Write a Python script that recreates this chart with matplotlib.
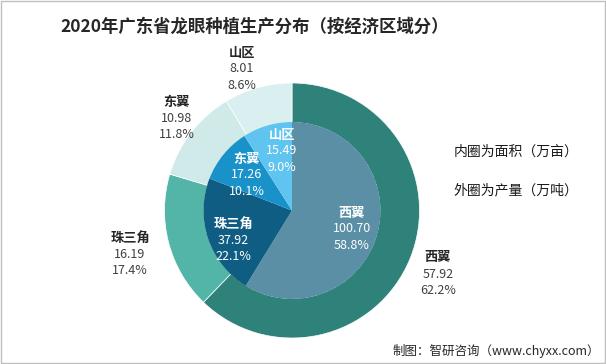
import matplotlib.pyplot as plt
from matplotlib.patches import Rectangle

plt.rcParams['font.family'] = ['Noto Sans CJK SC', 'DejaVu Sans']

regions = ['西翼', '珠三角', '东翼', '山区']
outer_vals = [57.92, 16.19, 10.98, 8.01]
outer_pct = ['62.2%', '17.4%', '11.8%', '8.6%']
inner_vals = [100.70, 37.92, 17.26, 15.49]
inner_pct = ['58.8%', '22.1%', '10.1%', '9.0%']

outer_colors = ['#2f8279', '#52b5a8', '#cfeae8', '#daefef']
inner_colors = ['#5a8fa6', '#0f5d83', '#1892c9', '#5fc4ef']

# label positions in pixels (from top-left)
outer_pos = [(438, 274), (130, 254), (177, 118), (242, 69)]
inner_pos = [(352, 229), (233, 240), (247, 175), (282, 151)]

fig = plt.figure(figsize=(6.06, 3.64), dpi=100)
ax = fig.add_axes([0, 0, 1, 1])

cx, cy = 292, 364 - 210.5
R = 127.5
r_in = 88

ax.pie(outer_vals, colors=outer_colors, startangle=90, counterclock=False,
       radius=R, center=(cx, cy), frame=True,
       wedgeprops=dict(width=R - r_in, edgecolor='white', linewidth=0.5))
ax.pie(inner_vals, colors=inner_colors, startangle=90, counterclock=False,
       radius=r_in + 0.5, center=(cx, cy), frame=True,
       wedgeprops=dict(edgecolor='none', linewidth=0))
ax.set_xlim(0, 606)
ax.set_ylim(0, 364)
ax.set_aspect('equal')
ax.axis('off')

for name, v, p, (x, y) in zip(regions, outer_vals, outer_pct, outer_pos):
    ax.text(x, 364 - y + 16.5, name, ha='center', va='center', fontsize=9.5,
            fontweight='bold', color='#262626')
    ax.text(x, 364 - y, f'{v:.2f}', ha='center', va='center', fontsize=9,
            color='#404040')
    ax.text(x, 364 - y - 16.5, p, ha='center', va='center', fontsize=9,
            color='#404040')

for name, v, p, (x, y) in zip(regions, inner_vals, inner_pct, inner_pos):
    ax.text(x, 364 - y + 16.5, name, ha='center', va='center', fontsize=9.5,
            fontweight='bold', color='white')
    ax.text(x, 364 - y, f'{v:.2f}', ha='center', va='center', fontsize=9,
            color='white')
    ax.text(x, 364 - y - 16.5, p, ha='center', va='center', fontsize=9,
            color='white')

fig.text(255 / 606, 1 - 27 / 364, '2020年广东省龙眼种植生产分布（按经济区域分）',
         ha='center', va='center', fontsize=12.5, fontweight='bold', color='#262626')
fig.text(516 / 606, 1 - 152 / 364, '内圈为面积（万亩）', ha='center', va='center',
         fontsize=10, color='#1a1a1a')
fig.text(516 / 606, 1 - 190 / 364, '外圈为产量（万吨）', ha='center', va='center',
         fontsize=10, color='#1a1a1a')
fig.text(600 / 606, 1 - 351 / 364, '制图：智研咨询（www.chyxx.com）', ha='right',
         va='center', fontsize=9, color='#262626')

fig.patches.append(Rectangle((0.001, 0.002), 0.997, 0.995, transform=fig.transFigure,
                             fill=False, edgecolor='#bfbfbf', linewidth=1))

fig.savefig('out.png', dpi=100)
